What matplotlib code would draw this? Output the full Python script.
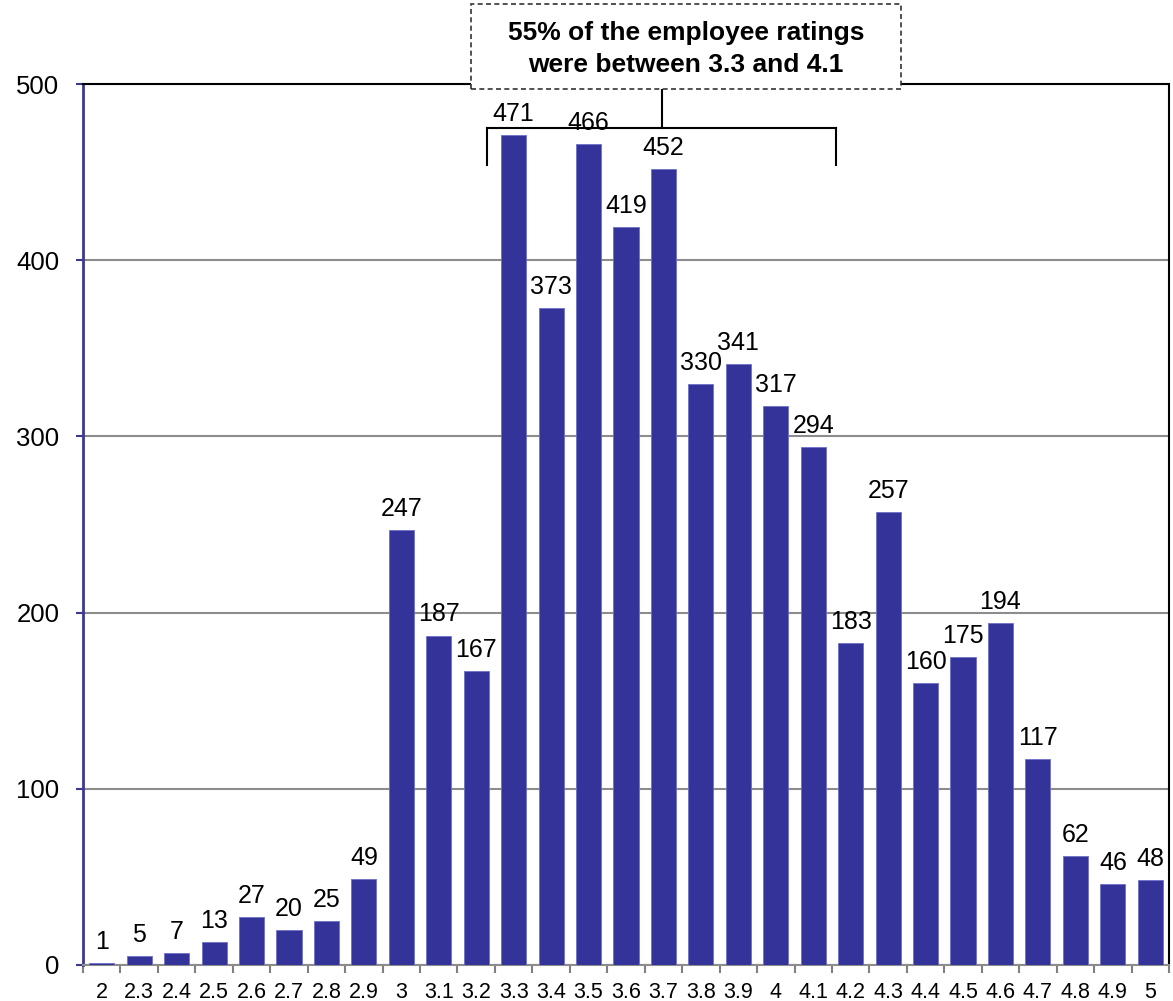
import matplotlib
matplotlib.use("Agg")
import matplotlib.pyplot as plt
from matplotlib.patches import Rectangle
from matplotlib.lines import Line2D

plt.rcParams['font.family'] = ['Liberation Sans', 'DejaVu Sans']

ratings = ["2", "2.3", "2.4", "2.5", "2.6", "2.7", "2.8", "2.9", "3", "3.1",
           "3.2", "3.3", "3.4", "3.5", "3.6", "3.7", "3.8", "3.9", "4", "4.1",
           "4.2", "4.3", "4.4", "4.5", "4.6", "4.7", "4.8", "4.9", "5"]
counts = [1, 5, 7, 13, 27, 20, 25, 49, 247, 187,
          167, 471, 373, 466, 419, 452, 330, 341, 317, 294,
          183, 257, 160, 175, 194, 117, 62, 46, 48]
y_ticks = [0, 100, 200, 300, 400, 500]
note_lines = ["55% of the employee ratings", "were between 3.3 and 4.1"]

W, H = 1173, 1001
fig = plt.figure(figsize=(W / 100, H / 100), dpi=100)
ax = fig.add_axes([83 / W, 36 / H, (1169 - 83) / W, (965 - 84) / H])

bar_color = "#333399"
x = list(range(len(ratings)))
ax.bar(x, counts, width=0.67, color=bar_color, edgecolor="#7070c8",
       linewidth=0.6, zorder=3)

for xi, v in zip(x, counts):
    ax.annotate(str(v), (xi, v), xytext=(0, 6.5), textcoords="offset points",
                ha="center", va="bottom", fontsize=18, color="black",
                zorder=4)

ax.set_xlim(-0.5, len(ratings) - 0.5)
ax.set_ylim(0, 500)
ax.set_yticks(y_ticks)
ax.set_yticklabels([str(t) for t in y_ticks], fontsize=18.5)
ax.set_xticks(x)
ax.set_xticklabels(ratings, fontsize=15.5)
ax.set_xticks([i - 0.5 for i in range(len(ratings) + 1)], minor=True)

ax.tick_params(axis="x", which="major", length=0, pad=12)
ax.tick_params(axis="x", which="minor", length=6, width=1.5, color="#808080")
ax.tick_params(axis="y", which="major", length=5, width=1.5, color="#3a3a90",
               pad=12)

ax.yaxis.grid(True, color="#8c8c8c", linewidth=1.5, zorder=0)
ax.set_axisbelow(True)

ax.spines["left"].set_color("#3a3a90")
ax.spines["left"].set_linewidth(2)
ax.spines["bottom"].set_color("#8c8c8c")
ax.spines["bottom"].set_linewidth(1.5)
ax.spines["top"].set_color("black")
ax.spines["top"].set_linewidth(1.5)
ax.spines["right"].set_color("black")
ax.spines["right"].set_linewidth(1.5)

# Bracket spanning the 3.3 - 4.1 range
bx0, bx1, bxc = 10.28, 19.62, 14.96
by_top, by_bot = 475, 454
for xs, ys in [([bx0, bx1], [by_top, by_top]),
               ([bx0, bx0], [by_top, by_bot]),
               ([bx1, bx1], [by_top, by_bot]),
               ([bxc, bxc], [by_top, 500 + 28])]:
    ax.add_line(Line2D(xs, ys, color="black", linewidth=1.5, clip_on=False,
                       zorder=5))

# Dashed note box above the plot
box = Rectangle((471 / W, 1 - 89 / H), 430 / W, 85 / H,
                transform=fig.transFigure, facecolor="white",
                edgecolor="#333333", linewidth=1.2, linestyle=(0, (3, 2)),
                zorder=10)
fig.patches.append(box)
fig.text(686 / W, 1 - 40 / H, note_lines[0], ha="center", va="baseline",
         fontsize=19, fontweight="bold", zorder=11)
fig.text(686 / W, 1 - 72 / H, note_lines[1], ha="center", va="baseline",
         fontsize=19, fontweight="bold", zorder=11)

fig.savefig("out.png", dpi=100)
